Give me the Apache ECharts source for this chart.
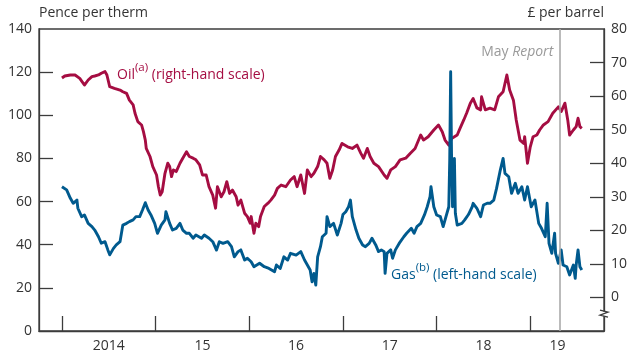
<!DOCTYPE html>
<html>
<head>
<meta charset="utf-8">
<script src="https://cdn.jsdelivr.net/npm/echarts@6/dist/echarts.min.js"></script>
<style>
  html, body { margin: 0; padding: 0; background: #fff; }
  #chart { width: 630px; height: 354px; }
</style>
</head>
<body>
<div id="chart"></div>
<script>
// Oil price, £ per barrel (time in decimal years)
const oilYears = [
  2014.00, 2014.03, 2014.09, 2014.14, 2014.19, 2014.24, 2014.28, 2014.32, 2014.35, 2014.39,
  2014.42, 2014.46, 2014.48, 2014.51, 2014.56, 2014.62, 2014.65, 2014.69, 2014.72, 2014.76,
  2014.78, 2014.81, 2014.85, 2014.87, 2014.89, 2014.90, 2014.94, 2014.97, 2015.01, 2015.03,
  2015.05, 2015.07, 2015.10, 2015.13, 2015.15, 2015.17, 2015.19, 2015.22, 2015.26, 2015.29,
  2015.33, 2015.36, 2015.40, 2015.43, 2015.47, 2015.50, 2015.54, 2015.57, 2015.61, 2015.64,
  2015.66, 2015.70, 2015.73, 2015.76, 2015.79, 2015.82, 2015.86, 2015.88, 2015.91, 2015.95,
  2015.98, 2016.01, 2016.02, 2016.05, 2016.07, 2016.10, 2016.12, 2016.16, 2016.20, 2016.23,
  2016.27, 2016.30, 2016.34, 2016.39, 2016.44, 2016.48, 2016.51, 2016.55, 2016.59, 2016.62,
  2016.66, 2016.69, 2016.73, 2016.76, 2016.80, 2016.83, 2016.86, 2016.89, 2016.92, 2016.96,
  2016.99, 2017.05, 2017.10, 2017.15, 2017.19, 2017.22, 2017.26, 2017.29, 2017.33, 2017.38,
  2017.44, 2017.47, 2017.51, 2017.56, 2017.61, 2017.67, 2017.72, 2017.77, 2017.83, 2017.86,
  2017.91, 2017.97, 2018.02, 2018.06, 2018.09, 2018.13, 2018.16, 2018.22, 2018.25, 2018.29,
  2018.32, 2018.36, 2018.39, 2018.43, 2018.47, 2018.48, 2018.52, 2018.57, 2018.62, 2018.66,
  2018.71, 2018.75, 2018.78, 2018.82, 2018.85, 2018.89, 2018.93, 2018.94, 2018.97, 2019.00,
  2019.03, 2019.07, 2019.10, 2019.14, 2019.19, 2019.24, 2019.30, 2019.33, 2019.37, 2019.40,
  2019.42, 2019.46, 2019.49, 2019.51, 2019.53, 2019.55
];
const oilPrice = [
  65.4, 66.0, 66.3, 66.3, 65.3, 63.3, 64.8, 65.8, 66.0, 66.3,
  66.8, 67.3, 66.3, 62.8, 62.3, 61.8, 61.3, 60.8, 58.8, 57.4,
  54.9, 52.4, 51.4, 49.4, 46.9, 44.4, 42.0, 39.0, 36.5, 33.0,
  30.5, 31.5, 37.0, 40.0, 39.0, 36.0, 38.0, 37.5, 40.0, 41.5,
  43.4, 42.0, 41.5, 41.0, 39.5, 36.5, 36.5, 33.0, 30.5, 26.6,
  33.0, 30.0, 31.5, 34.5, 31.0, 32.0, 30.0, 27.5, 29.0, 25.1,
  24.1, 22.1, 24.1, 19.1, 22.1, 21.1, 24.1, 27.1, 28.1, 29.0,
  30.5, 32.5, 33.5, 33.0, 35.0, 36.0, 33.0, 36.5, 31.0, 38.0,
  36.0, 37.0, 39.0, 42.0, 41.0, 40.0, 35.5, 38.0, 42.0, 44.0,
  45.9, 44.9, 44.4, 45.4, 43.0, 41.5, 44.4, 42.0, 40.0, 39.0,
  36.5, 35.5, 38.0, 39.0, 41.0, 41.5, 43.0, 44.4, 48.4, 46.9,
  47.9, 49.9, 51.4, 49.4, 46.9, 45.4, 47.4, 48.4, 50.4, 52.9,
  54.9, 57.9, 59.3, 56.5, 55.9, 59.8, 55.9, 56.4, 55.9, 59.8,
  61.3, 66.3, 61.8, 58.8, 52.9, 46.9, 45.9, 47.9, 40.0, 44.9,
  47.9, 48.4, 49.9, 51.4, 52.4, 54.9, 56.8, 55.4, 57.9, 52.9,
  48.4, 49.9, 50.9, 53.4, 50.9, 50.4
];

// Gas price, pence per therm (time in decimal years)
const gasYears = [
  2014.00, 2014.05, 2014.09, 2014.12, 2014.16, 2014.17, 2014.21, 2014.24, 2014.28, 2014.32,
  2014.35, 2014.39, 2014.42, 2014.46, 2014.49, 2014.51, 2014.55, 2014.58, 2014.62, 2014.65,
  2014.69, 2014.72, 2014.76, 2014.79, 2014.83, 2014.86, 2014.89, 2014.92, 2014.95, 2014.99,
  2015.02, 2015.06, 2015.10, 2015.11, 2015.15, 2015.18, 2015.22, 2015.26, 2015.29, 2015.33,
  2015.36, 2015.40, 2015.43, 2015.49, 2015.52, 2015.57, 2015.61, 2015.65, 2015.68, 2015.72,
  2015.77, 2015.81, 2015.84, 2015.88, 2015.91, 2015.95, 2015.98, 2016.02, 2016.05, 2016.11,
  2016.16, 2016.21, 2016.27, 2016.29, 2016.33, 2016.37, 2016.41, 2016.44, 2016.50, 2016.55,
  2016.59, 2016.62, 2016.65, 2016.67, 2016.69, 2016.71, 2016.73, 2016.76, 2016.78, 2016.82,
  2016.83, 2016.86, 2016.90, 2016.94, 2016.98, 2017.00, 2017.03, 2017.06, 2017.08, 2017.10,
  2017.14, 2017.17, 2017.21, 2017.24, 2017.28, 2017.31, 2017.35, 2017.38, 2017.41, 2017.44,
  2017.45, 2017.47, 2017.51, 2017.53, 2017.56, 2017.60, 2017.65, 2017.68, 2017.73, 2017.76,
  2017.79, 2017.83, 2017.87, 2017.90, 2017.93, 2017.94, 2017.97, 2018.00, 2018.04, 2018.07,
  2018.10, 2018.13, 2018.14, 2018.15, 2018.16, 2018.17, 2018.19, 2018.20, 2018.22, 2018.27,
  2018.30, 2018.34, 2018.38, 2018.39, 2018.43, 2018.47, 2018.50, 2018.54, 2018.57, 2018.61,
  2018.64, 2018.68, 2018.71, 2018.73, 2018.77, 2018.80, 2018.84, 2018.87, 2018.91, 2018.94,
  2018.97, 2019.01, 2019.05, 2019.09, 2019.12, 2019.16, 2019.17, 2019.18, 2019.20, 2019.23,
  2019.26, 2019.27, 2019.30, 2019.33, 2019.35, 2019.39, 2019.42, 2019.46, 2019.48, 2019.49,
  2019.51, 2019.53, 2019.55
];
const gasPrice = [
  66.9, 65.4, 61.5, 59.2, 60.7, 56.9, 53.0, 53.8, 49.9, 48.4,
  46.8, 43.7, 40.7, 41.4, 37.6, 35.3, 38.3, 39.9, 41.4, 49.1,
  49.9, 50.7, 51.5, 53.0, 53.0, 56.1, 59.5, 56.1, 53.8, 49.9,
  45.3, 49.1, 51.5, 55.3, 49.9, 46.8, 47.6, 49.9, 46.8, 45.3,
  45.3, 43.0, 44.5, 43.0, 44.5, 43.0, 41.4, 37.5, 41.4, 40.6,
  41.4, 39.1, 34.4, 36.8, 37.6, 32.9, 33.7, 32.1, 29.8, 31.4,
  29.8, 29.0, 27.5, 30.6, 29.0, 34.4, 32.9, 36.0, 35.2, 36.8,
  32.9, 30.6, 28.3, 22.8, 26.7, 21.3, 34.4, 39.1, 43.7, 45.3,
  53.0, 48.4, 49.9, 44.5, 49.9, 54.0, 55.3, 57.6, 60.7, 53.0,
  46.8, 43.0, 39.9, 39.1, 40.6, 43.0, 39.9, 36.8, 37.6, 36.8,
  26.7, 36.0, 37.6, 33.7, 37.6, 40.6, 43.7, 45.3, 47.6, 45.3,
  48.4, 49.9, 53.8, 57.6, 62.3, 66.9, 57.6, 53.8, 53.0, 48.4,
  53.0, 57.6, 79.3, 120.2, 79.3, 57.6, 80.0, 54.6, 49.1, 49.9,
  51.5, 54.0, 57.6, 59.2, 56.9, 53.0, 58.4, 59.2, 59.2, 60.7,
  66.1, 74.6, 80.0, 73.1, 71.5, 63.8, 68.5, 63.8, 66.9, 60.7,
  66.9, 57.6, 60.7, 49.9, 47.6, 43.7, 43.0, 59.2, 40.6, 36.0,
  45.3, 36.0, 31.4, 37.6, 30.6, 29.8, 26.0, 30.6, 24.4, 30.6,
  37.6, 29.8, 28.3
];

// Year ticks and labels on the time axis
const yearTicks = [2014, 2015, 2016, 2017, 2018, 2019];
const yearLabelPos = [2014.5, 2015.5, 2016.5, 2017.5, 2018.5, 2019.29];
const yearLabels = ['2014', '15', '16', '17', '18', '19'];
const xMin = 2013.755, xMax = 2019.787;

// Date of the May Inflation Report data cut-off
const mayReport = 2019.32;

const gasTicks = [0, 20, 40, 60, 80, 100, 120, 140];
const oilTicks = [0, 10, 20, 30, 40, 50, 60, 70, 80];

const OIL = '#a50d42';
const GAS = '#005a8e';
const AXIS = '#3c3c3c';
const TEXT = '#333333';
const GREY = '#9a9a9a';
const FONT = '"Open Sans", "Noto Sans", sans-serif';

const chart = echarts.init(document.getElementById('chart'), null, { renderer: 'canvas' });

const pairs = (xs, ys) => xs.map((x, i) => [x, ys[i]]);

const labelFor = {};
yearLabelPos.forEach((p, i) => { labelFor[p.toFixed(2)] = yearLabels[i]; });

chart.setOption({
  animation: false,
  textStyle: { fontFamily: FONT },
  grid: {
    left: 39, right: 24, top: 29, bottom: 23,
    show: true, borderColor: AXIS, borderWidth: 1.3, backgroundColor: 'transparent'
  },
  xAxis: {
    type: 'value', min: xMin, max: xMax,
    splitLine: { show: false },
    axisLine: { show: true, lineStyle: { color: AXIS, width: 1.3 } },
    axisTick: {
      show: true, inside: true, length: 15,
      customValues: yearTicks,
      lineStyle: { color: AXIS, width: 1.3 }
    },
    axisLabel: {
      customValues: yearLabelPos,
      formatter: v => labelFor[v.toFixed(2)] || '',
      color: TEXT, fontSize: 14, fontFamily: FONT, margin: 8
    }
  },
  yAxis: [
    {
      type: 'value', min: 0, max: 140, interval: 20, position: 'left',
      splitLine: { show: false },
      axisLine: { show: true, lineStyle: { color: AXIS, width: 1.3 } },
      axisTick: {
        show: true, inside: true, length: 14,
        customValues: gasTicks.slice(1, -1),
        lineStyle: { color: AXIS, width: 1.3 }
      },
      axisLabel: { color: TEXT, fontSize: 14, fontFamily: FONT, margin: 7, customValues: gasTicks }
    },
    {
      type: 'value', min: -10, max: 80, interval: 10, position: 'right',
      splitLine: { show: false },
      axisLine: { show: true, lineStyle: { color: AXIS, width: 1.3 } },
      axisTick: {
        show: true, inside: true, length: 14,
        customValues: oilTicks.slice(0, -1),
        lineStyle: { color: AXIS, width: 1.3 }
      },
      axisLabel: { color: TEXT, fontSize: 14, fontFamily: FONT, margin: 7, customValues: oilTicks }
    }
  ],
  series: [
    {
      name: 'Oil', type: 'line', yAxisIndex: 1,
      data: pairs(oilYears, oilPrice),
      showSymbol: false, symbol: 'none',
      lineStyle: { color: OIL, width: 2.9, join: 'round' },
      markLine: {
        silent: true, symbol: 'none', label: { show: false },
        lineStyle: { color: '#aaaaaa', width: 1.6, type: 'solid' },
        data: [{ xAxis: mayReport }]
      },
      z: 2
    },
    {
      name: 'Gas', type: 'line', yAxisIndex: 0,
      data: pairs(gasYears, gasPrice),
      showSymbol: false, symbol: 'none',
      lineStyle: { color: GAS, width: 2.9, join: 'round' },
      z: 3
    }
  ]
});

// Annotations: axis units, series names and the May Report marker
const supRich = (color) => ({
  main: { fontSize: 14, fill: color, fontFamily: FONT, lineHeight: 20, verticalAlign: 'bottom' },
  sup: { fontSize: 11.5, fill: color, fontFamily: FONT, lineHeight: 11, verticalAlign: 'top' }
});

const [bx, by] = chart.convertToPixel({ xAxisIndex: 0, yAxisIndex: 1 }, [xMax, -5]);
const [mx] = chart.convertToPixel({ xAxisIndex: 0, yAxisIndex: 0 }, [mayReport, 0]);

chart.setOption({
  graphic: [
    { type: 'text', left: 39, top: 6,
      style: { text: 'Pence per therm', fill: TEXT, fontSize: 14, fontFamily: FONT } },
    { type: 'text', right: 26, top: 6,
      style: { text: '£ per barrel', fill: TEXT, fontSize: 14, fontFamily: FONT, align: 'right' } },
    { type: 'text', left: 117, top: 62,
      style: { text: '{main|Oil}{sup|(a)}{main| (right-hand scale)}', fill: OIL, rich: supRich(OIL) } },
    { type: 'text', left: 391, top: 262,
      style: { text: '{main|Gas}{sup|(b)}{main| (left-hand scale)}', fill: GAS, rich: supRich(GAS) } },
    { type: 'text', x: mx - 7, y: 52,
      style: {
        text: '{n|May }{i|Report}', align: 'right', verticalAlign: 'middle', fill: GREY,
        rich: {
          n: { fontSize: 14, fill: GREY, fontFamily: FONT },
          i: { fontSize: 14, fill: GREY, fontFamily: FONT, fontStyle: 'italic' }
        }
      } },
    // axis break on the right-hand scale
    { type: 'polyline', z: 100,
      shape: { points: [[bx - 4, by - 4], [bx + 4, by - 2], [bx - 4, by + 1], [bx + 4, by + 3]] },
      style: { stroke: AXIS, lineWidth: 1.3, fill: null } },
    { type: 'rect', z: 99,
      shape: { x: bx - 2, y: by - 2.5, width: 4, height: 4.5 },
      style: { fill: '#fff' } }
  ]
});
</script>
</body>
</html>
